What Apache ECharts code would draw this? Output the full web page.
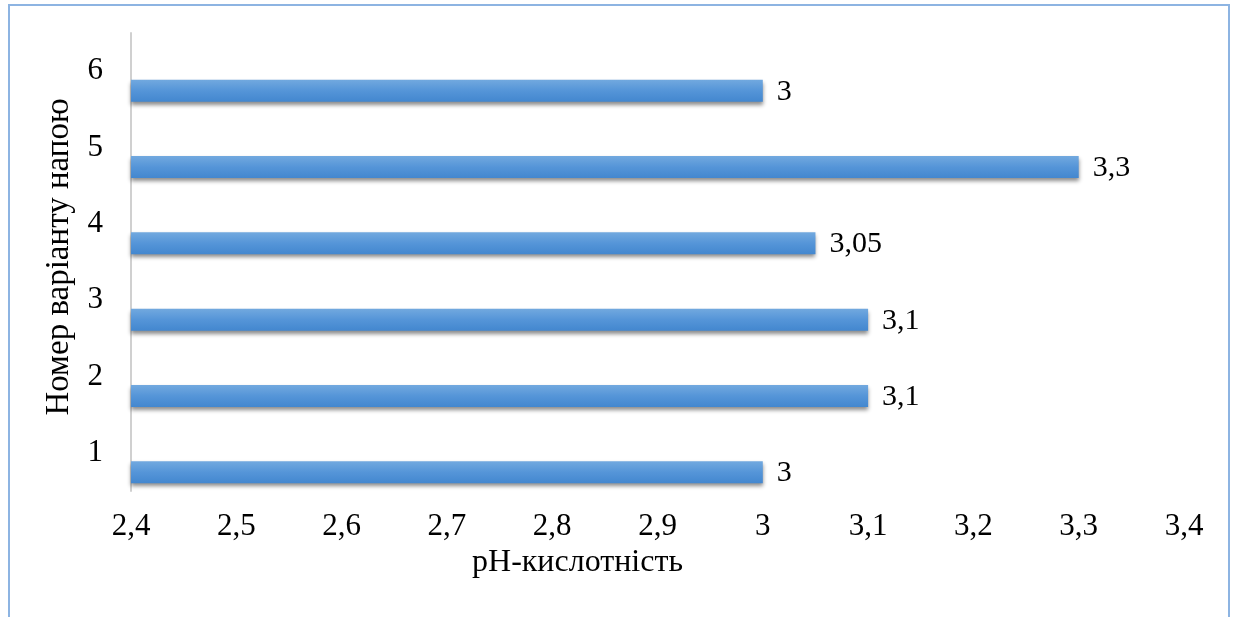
<!DOCTYPE html>
<html>
<head>
<meta charset="utf-8">
<script src="https://cdn.jsdelivr.net/npm/echarts@6/dist/echarts.min.js"></script>
<style>
  html, body { margin: 0; padding: 0; background: #fff; overflow: hidden; }
  #frame { position: absolute; left: 8px; top: 4px; width: 1222px; height: 700px; border: 2px solid #8DB4E2; box-sizing: border-box; }
  #chart { position: absolute; left: 0; top: 0; width: 1235px; height: 617px; }
</style>
</head>
<body>
<div id="frame"></div>
<div id="chart"></div>
<script>
// Drink variants and their measured acidity
const variants = ['1', '2', '3', '4', '5', '6'];
const phValues = [3, 3.1, 3.1, 3.05, 3.3, 3];
const xTicks = { min: 2.4, max: 3.4, step: 0.1 };

const fmt = v => String(Math.round(v * 100) / 100).replace('.', ',');
const serif = "'Liberation Serif', serif";

const chart = echarts.init(document.getElementById('chart'), null, { renderer: 'canvas' });
chart.setOption({
  animation: false,
  grid: { left: 131, right: 51, top: 33, bottom: 126 },
  xAxis: {
    type: 'value',
    min: xTicks.min,
    max: xTicks.max,
    interval: xTicks.step,
    axisLine: { show: false },
    axisTick: { show: false },
    splitLine: { show: false },
    axisLabel: { formatter: fmt, color: '#000', fontFamily: serif, fontSize: 31, margin: 20 },
    name: 'рН-кислотність',
    nameLocation: 'middle',
    nameGap: 49,
    nameTextStyle: { color: '#000', fontFamily: serif, fontSize: 32, padding: [0, 160, 0, 0] }
  },
  yAxis: {
    type: 'category',
    data: variants,
    axisLine: { show: true, lineStyle: { color: '#D0D0D0', width: 2 } },
    axisTick: { show: false },
    splitLine: { show: false },
    axisLabel: { color: '#000', fontFamily: serif, fontSize: 31, margin: 28 },
    name: 'Номер варіанту напою',
    nameLocation: 'middle',
    nameGap: 55,
    nameTextStyle: { color: '#000', fontFamily: serif, fontSize: 33, padding: [0, 0, 0, 10] }
  },
  series: [
    // empty companion series: reserves the upper slot in each category band
    { type: 'bar', name: 'reserve', data: [], barWidth: 22, barGap: '77%' },
    {
      type: 'bar',
      name: 'pH',
      data: phValues,
      barWidth: 22,
      barGap: '77%',
      itemStyle: {
        color: new echarts.graphic.LinearGradient(0, 0, 0, 1, [
          { offset: 0, color: '#72A9DF' },
          { offset: 0.5, color: '#5595D8' },
          { offset: 1, color: '#4387CF' }
        ]),
        shadowColor: 'rgba(0,0,0,0.45)',
        shadowBlur: 4,
        shadowOffsetY: 3
      },
      label: {
        show: true,
        position: 'right',
        distance: 14,
        offset: [0, 1],
        formatter: p => fmt(p.value),
        color: '#000',
        fontFamily: serif,
        fontSize: 30
      }
    }
  ]
});
</script>
</body>
</html>
